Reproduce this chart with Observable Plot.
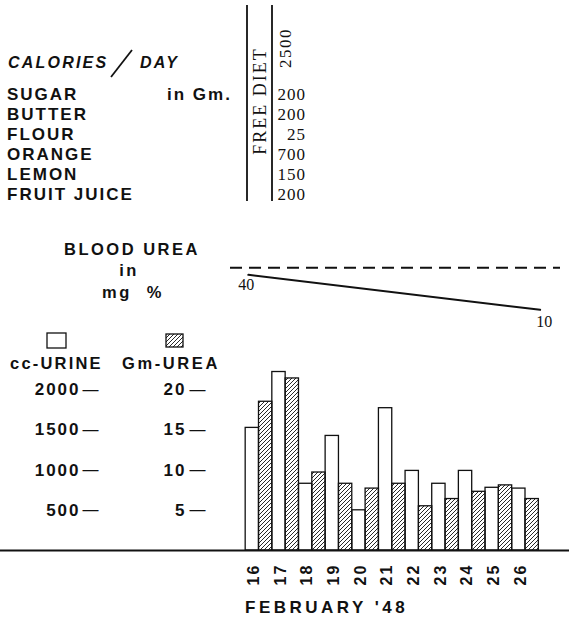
<!DOCTYPE html>
<html><head><meta charset="utf-8">
<script src="https://cdn.jsdelivr.net/npm/d3@7"></script>
<script src="https://cdn.jsdelivr.net/npm/@observablehq/plot@0.6"></script>
<style>
body{margin:0;background:#fff;}
#page{position:relative;width:569px;height:617px;overflow:hidden;background:#fff;}
#page > svg{position:absolute;left:0;background:transparent !important;}
</style></head><body>
<svg width="0" height="0" style="position:absolute">
  <defs>
    <pattern id="hatch" patternUnits="userSpaceOnUse" width="4" height="4">
      <path d="M-1,1 l2,-2 M0,4 l4,-4 M3,5 l2,-2" stroke="#111" stroke-width="0.9"/>
    </pattern>
  </defs>
</svg>
<div id="page"></div>
<script>
// ---- data ----
const days = [16, 17, 18, 19, 20, 21, 22, 23, 24, 25, 26];
const urineCc = [1525, 2220, 830, 1425, 500, 1770, 990, 830, 990, 780, 770];
const ureaGm = [18.5, 21.4, 9.7, 8.3, 7.7, 8.3, 5.5, 6.4, 7.3, 8.1, 6.4];
const urineTicks = [500, 1000, 1500, 2000];
const ureaTicks = [5, 10, 15, 20];
const foods = ["SUGAR", "BUTTER", "FLOUR", "ORANGE", "LEMON", "FRUIT JUICE"];
const foodGrams = [200, 200, 25, 700, 150, 200];
const dietName = "FREE DIET";
const dietCalories = 2500;
const bloodUreaDays = [15.6, 26.55];
const bloodUreaMg = [40, 10];
const bloodUreaRef = 46;

const rows = days.map((d, i) => ({day: d, urine: urineCc[i], urea: ureaGm[i]}));
const bloodData = bloodUreaDays.map((d, i) => ({day: d, mg: bloodUreaMg[i]}));

// ---- layout ----
const W = 569;
const X0 = 258.5, DX = 26.65;
const dayAt = px => 16 + (px - X0) / DX;
const SANS = '"Liberation Sans", Arial, sans-serif';
const SERIF = '"Liberation Serif", serif';
const page = document.getElementById("page");

// Blood urea panel
const blood = Plot.plot({
  width: W, height: 100,
  marginLeft: 230, marginRight: 9, marginTop: 11, marginBottom: 19,
  x: {type: "linear", domain: [dayAt(230), dayAt(560)], axis: null},
  y: {domain: [0, 60], axis: null},
  style: {background: "transparent", overflow: "visible"},
  marks: [
    Plot.ruleY([bloodUreaRef], {stroke: "#111", strokeWidth: 2, strokeDasharray: "12,7"}),
    Plot.line(bloodData, {x: "day", y: "mg", stroke: "#111", strokeWidth: 2}),
    Plot.text(bloodData, {filter: (d, i) => i === 0, x: "day", y: "mg", text: d => String(d.mg), dx: -2, dy: 10, fontSize: 16, fontFamily: SERIF, fill: "#111"}),
    Plot.text(bloodData, {filter: (d, i) => i === 1, x: "day", y: "mg", text: d => String(d.mg), dx: 4, dy: 12, fontSize: 16, fontFamily: SERIF, fill: "#111"})
  ]
});
blood.style.top = "240px";
page.appendChild(blood);

// Bar chart panel
const bars = Plot.plot({
  width: W, height: 287,
  marginLeft: 0, marginRight: 0, marginTop: 19, marginBottom: 67,
  x: {type: "linear", domain: [dayAt(0), dayAt(W)], axis: null},
  y: {domain: [0, 2500], axis: null},
  style: {background: "transparent", overflow: "visible", letterSpacing: "2px"},
  marks: [
    Plot.rect(rows, {x1: d => d.day - 0.5, x2: d => d.day, y1: 0, y2: "urine", fill: "white", stroke: "#111", strokeWidth: 1.3}),
    Plot.rect(rows, {x1: d => d.day, x2: d => d.day + 0.5, y1: 0, y2: d => d.urea * 100, fill: "url(#hatch)", stroke: "#111", strokeWidth: 1.3}),
    Plot.ruleY([0], {stroke: "#111", strokeWidth: 2}),
    Plot.text(urineTicks, {y: d => d, text: d => String(d), frameAnchor: "left", dx: 80, textAnchor: "end", fontSize: 17, fontWeight: "bold", fontFamily: SANS, fill: "#111"}),
    Plot.text(urineTicks, {y: d => d, text: () => "—", frameAnchor: "left", dx: 82, textAnchor: "start", fontSize: 16, fontFamily: SANS, fill: "#111"}),
    Plot.text(ureaTicks, {y: d => d * 100, text: d => String(d), frameAnchor: "left", dx: 186, textAnchor: "end", fontSize: 17, fontWeight: "bold", fontFamily: SANS, fill: "#111"}),
    Plot.text(ureaTicks, {y: d => d * 100, text: () => "—", frameAnchor: "left", dx: 189, textAnchor: "start", fontSize: 16, fontFamily: SANS, fill: "#111"}),
    Plot.text(days, {x: d => d, text: d => String(d), frameAnchor: "bottom", dy: 24, rotate: -90, fontSize: 16, fontWeight: "bold", fontFamily: SANS, fill: "#111"})
  ]
});
bars.style.top = "330px";
page.appendChild(bars);

// Annotations
const ann = d3.select(page).append("svg")
  .attr("width", W).attr("height", 617)
  .style("top", "0px")
  .attr("font-family", SANS).attr("fill", "#111");

ann.append("text").attr("x", 8).attr("y", 68).attr("font-size", 16).attr("font-style", "italic")
  .attr("font-weight", "bold").attr("letter-spacing", 2.2).text("CALORIES");
ann.append("line").attr("x1", 111).attr("y1", 77).attr("x2", 132).attr("y2", 50).attr("stroke", "#111").attr("stroke-width", 1.8);
ann.append("text").attr("x", 140).attr("y", 68).attr("font-size", 16).attr("font-style", "italic")
  .attr("font-weight", "bold").attr("letter-spacing", 2.2).text("DAY");

foods.forEach((f, i) => {
  ann.append("text").attr("x", 7).attr("y", 100 + 20 * i).attr("font-size", 17).attr("font-weight", "bold")
    .attr("letter-spacing", 2).text(f);
  ann.append("text").attr("x", 306).attr("y", 100 + 20 * i).attr("font-size", 17).attr("text-anchor", "end")
    .attr("font-family", SERIF).attr("letter-spacing", 1).text(String(foodGrams[i]));
});
ann.append("text").attr("x", 167).attr("y", 100).attr("font-size", 17).attr("font-weight", "bold")
  .attr("letter-spacing", 2).text("in Gm.");

[247, 272].forEach(x => ann.append("line").attr("x1", x).attr("x2", x).attr("y1", 5).attr("y2", 201)
  .attr("stroke", "#111").attr("stroke-width", 1.8));

ann.append("text").attr("transform", "translate(260,101) rotate(-90)").attr("text-anchor", "middle")
  .attr("dominant-baseline", "central").attr("font-family", SERIF).attr("font-size", 18)
  .attr("letter-spacing", 2).text(dietName);
ann.append("text").attr("transform", "translate(285,48) rotate(-90)").attr("text-anchor", "middle")
  .attr("dominant-baseline", "central").attr("font-family", SERIF).attr("font-size", 17)
  .attr("letter-spacing", 1.5).text(String(dietCalories));

const centered = (t, x, y) => ann.append("text").attr("x", x).attr("y", y).attr("text-anchor", "middle")
  .attr("font-size", 16.5).attr("font-weight", "bold").attr("letter-spacing", 2.5).text(t);
centered("BLOOD UREA", 132, 255);
centered("in", 129, 276);
centered("mg %", 133, 298).attr("word-spacing", 8);

ann.append("rect").attr("x", 47).attr("y", 333).attr("width", 19).attr("height", 15)
  .attr("fill", "white").attr("stroke", "#111").attr("stroke-width", 1.3);
ann.append("rect").attr("x", 166).attr("y", 334).attr("width", 17).attr("height", 13)
  .attr("fill", "url(#hatch)").attr("stroke", "#111").attr("stroke-width", 1.3);
ann.append("text").attr("x", 10).attr("y", 369).attr("font-size", 16.5).attr("font-weight", "bold")
  .attr("letter-spacing", 2.2).text("cc-URINE");
ann.append("text").attr("x", 122).attr("y", 369).attr("font-size", 16.5).attr("font-weight", "bold")
  .attr("letter-spacing", 2.6).text("Gm-UREA");

ann.append("text").attr("x", 245).attr("y", 613).attr("font-size", 17).attr("font-weight", "bold")
  .attr("letter-spacing", 3.5).text("FEBRUARY '48");
</script>
</body></html>
